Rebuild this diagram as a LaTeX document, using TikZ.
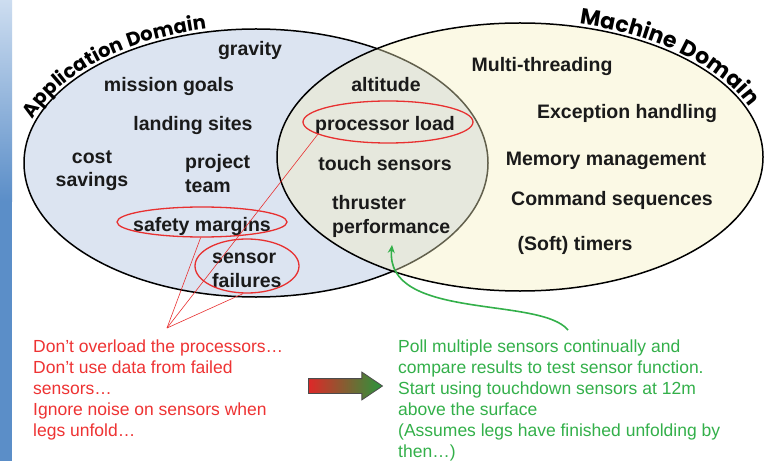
\documentclass[tikz,border=0pt]{standalone}
\usepackage{fontspec}
\setmainfont{Liberation Sans}
\newfontfamily\domfont{Poppins}
\usetikzlibrary{shapes.geometric,shapes.arrows,decorations.text,arrows.meta}

\definecolor{appfill}{RGB}{220,228,241}
\definecolor{machfill}{RGB}{245,240,192}
\definecolor{ink}{RGB}{26,26,26}
\definecolor{markred}{RGB}{232,48,48}
\definecolor{notered}{RGB}{238,51,51}
\definecolor{notegreen}{RGB}{51,176,74}
\definecolor{bandtop}{RGB}{205,221,240}
\definecolor{bandblue}{RGB}{91,142,200}
\definecolor{shiftred}{RGB}{222,40,40}
\definecolor{shiftgreen}{RGB}{40,150,60}

\begin{document}
\begin{tikzpicture}[x=1pt,y=1pt,
  term/.style={font=\bfseries\fontsize{19.5}{23.5}\selectfont, text=ink, inner sep=0pt, anchor=base},
  termblock/.style={term, align=left, anchor=base west},
  ring/.style={draw=markred, line width=1.3pt, ellipse, inner sep=0pt},
  pointer/.style={draw=markred, line width=0.6pt},
  note/.style={font=\fontsize{17.5}{21}\selectfont, inner sep=0pt, align=left, anchor=base west},
  outline/.style={line width=1.5pt},
]
\useasboundingbox (0,0) rectangle (767,461);
\fill[white] (0,0) rectangle (767,461);

% blue side band
\fill[bandblue] (0,0) rectangle (12,262);
\shade[top color=bandtop, bottom color=bandblue] (0,260) rectangle (12,461);

% the two domains
\draw[outline, fill=appfill] (256,298) ellipse [x radius=232, y radius=134];
\fill[machfill, fill opacity=0.4] (520,304) ellipse [x radius=243, y radius=134];
\draw[outline] (520,304) ellipse [x radius=243, y radius=134];

% domain titles along the outlines
\path[decorate, decoration={text along path, raise=3pt,
  text={|\domfont\bfseries\fontsize{19.5}{19.5}\selectfont|Application Domain}}]
  (256,298) ++(162:232 and 134) arc[start angle=162, end angle=40, x radius=232, y radius=134];
\path[decorate, decoration={text along path, raise=3pt,
  text={|\domfont\bfseries\fontsize{22}{22}\selectfont|Machine Domain}}]
  (520,304) ++(76:243 and 134) arc[start angle=76, end angle=-30, x radius=243, y radius=134];

% application terms
\node[term] (gravity) at (250,405) {gravity};
\node[term] (goals) at (169,369) {mission goals};
\node[term] (sites) at (193,330) {landing sites};
\node[term, align=center] (cost) at (92,274) {cost\\savings};
\node[termblock] (team) at (185,269) {project\\team};
\node[term] (margins) at (202,230) {safety margins};
\node[termblock] (failures) at (212,174) {sensor\\failures};

% shared terms
\node[term] (altitude) at (386,369) {altitude};
\node[term] (load) at (385,330) {processor load};
\node[term] (touch) at (385,290) {touch sensors};
\node[termblock] (thrust) at (332,228) {thruster\\performance};

% machine terms
\node[term] (threads) at (542,389) {Multi-threading};
\node[term] (except) at (627,342) {Exception handling};
\node[term] (memory) at (606,295) {Memory management};
\node[term] (commands) at (612,256) {Command sequences};
\node[term] (timers) at (575,211) {(Soft) timers};

% red rings around the risky terms
\node[ring, minimum width=170pt, minimum height=42pt] (loadring) at (388,339) {};
\node[ring, minimum width=170pt, minimum height=30pt] (marginring) at (202,239) {};
\node[ring, minimum width=104pt, minimum height=54pt] (failring) at (247,195) {};

% red notes and their pointers
\node[note, text=notered] (warn) at (33,25)
  {Don’t overload the processors…\\Don’t use data from failed\\sensors…\\Ignore noise on sensors when\\legs unfold…};
\coordinate (fan) at (167,133);
\draw[pointer] (fan) -- (marginring.265);
\draw[pointer] (fan) -- (failring.262);
\draw[pointer] (fan) -- (loadring.190);

% shift arrow from problems to remedies
\node[single arrow, draw=black!70, line width=0.8pt, left color=shiftred, right color=shiftgreen,
  minimum height=74pt, inner xsep=0pt, inner ysep=7pt, single arrow head extend=6.5pt,
  single arrow tip angle=68] (shift) at (340,75) {};

% green notes and their pointer
\node[note, text=notegreen] (remedy) at (398,4)
  {Poll multiple sensors continually and\\compare results to test sensor function.\\Start using touchdown sensors at 12m\\above the surface\\(Assumes legs have finished unfolding by\\then…)};
\coordinate (gstart) at (568,131);
\coordinate (gtip) at (392,216);
\draw[notegreen, line width=1.6pt, -{Stealth[length=8pt,width=7pt]}]
  (gstart) .. controls (540,165) and (385,140) .. (gtip);
\end{tikzpicture}
\end{document}
